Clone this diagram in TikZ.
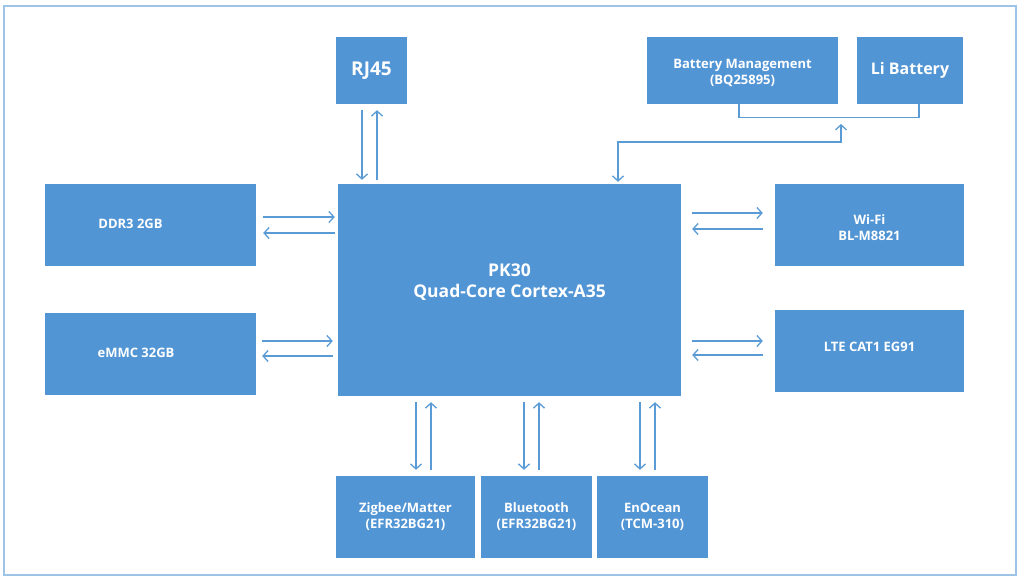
\documentclass[tikz,border=0pt]{standalone}
\usepackage{fontspec}
\setmainfont{Open Sans}
\usetikzlibrary{arrows.meta}

\definecolor{boxblue}{RGB}{82,149,213}
\definecolor{linkblue}{RGB}{91,155,213}
\definecolor{framblue}{RGB}{157,195,230}

\begin{document}
\begin{tikzpicture}[x=1pt,y=-1pt]
  \useasboundingbox (0,0) rectangle (1024,581);
  \tikzset{blk/.style={fill=boxblue,draw=none,text=white,font=\bfseries\fontsize{13}{16}\selectfont,
      align=center,inner sep=0pt},
    link/.style={draw=linkblue,line width=1.3pt,arrows={-Straight Barb[length=5pt,width=11pt]}},
    lbl/.style={text=white,font=\bfseries\fontsize{13}{16}\selectfont,align=center}}

 % frame
  \draw[framblue,line width=1.5pt] (4,6) rectangle (1016,575);

% blocks
  \node[blk,minimum width=71pt,minimum height=67pt,font=\bfseries\fontsize{19}{22}\selectfont] (rj) at (371.5,70.5) {RJ45};
  \node[blk,minimum width=191pt,minimum height=67pt] (bms) at (742.5,70.5) {};
  \node[lbl] (bmstxt) at (742.5,72.5) {Battery Management\\(BQ25895)};
  \node[blk,minimum width=106pt,minimum height=67pt,font=\bfseries\fontsize{16}{19}\selectfont] (lib) at (910,70.5) {Li Battery};
  \node[blk,minimum width=343pt,minimum height=212pt] (pk) at (509.5,290) {};
  \node[lbl,font=\bfseries\fontsize{17.5}{21}\selectfont] (pktxt) at (509.5,282) {PK30\\Quad-Core Cortex-A35};
  \node[blk,minimum width=211pt,minimum height=82pt] (ddr) at (150.5,225) {};
  \node[lbl] (ddrtxt) at (130.5,224) {DDR3 2GB};
  \node[blk,minimum width=211pt,minimum height=82pt] (emmc) at (150.5,354) {};
  \node[lbl] (emmctxt) at (136,353) {eMMC 32GB};
  \node[blk,minimum width=189pt,minimum height=82pt] (wifi) at (869.5,225) {};
  \node[lbl] (wifitxt) at (869.5,227.5) {Wi-Fi\\BL-M8821};
  \node[blk,minimum width=189pt,minimum height=82pt] (lte) at (869.5,351) {};
  \node[lbl] (ltetxt) at (869.5,347) {LTE CAT1 EG91};
  \node[blk,minimum width=139pt,minimum height=82pt] (zig) at (405.5,517) {Zigbee/Matter\\(EFR32BG21)};
  \node[blk,minimum width=111pt,minimum height=82pt] (bt) at (536.5,517) {Bluetooth\\(EFR32BG21)};
  \node[blk,minimum width=111pt,minimum height=82pt] (eno) at (652.5,517) {EnOcean\\(TCM-310)};

%links top
  \draw[link,shorten <=6pt,shorten >=4pt] ([xshift=-9.5pt]rj.south) -- ([xshift=-9.5pt]rj.south |- pk.north);
  \draw[link,shorten <=4pt,shorten >=6pt] ([xshift=5.5pt]rj.south |- pk.north) -- ([xshift=5.5pt]rj.south);

  \coordinate (bat) at (841,117);
  \draw[linkblue,line width=1.3pt] ([xshift=-3.5pt]bms.south) -- ++(0,13) -| ([xshift=9pt]lib.south);
  \draw[link,arrows={Straight Barb[length=5pt,width=11pt]-Straight Barb[length=5pt,width=11pt]},shorten <=2pt,shorten >=7pt]
    ([xshift=108.5pt]pk.north) |- ([yshift=-25pt]bat) -- (bat);

%links left
  \draw[link,shorten <=7pt,shorten >=3pt] ([yshift=8pt]ddr.east) -- ([yshift=8pt]ddr.east -| pk.west);
  \draw[link,shorten <=3pt,shorten >=7pt] ([yshift=-8pt]ddr.east -| pk.west) -- ([yshift=-8pt]ddr.east);
  \draw[link,shorten <=6pt,shorten >=5pt] ([yshift=13pt]emmc.east) -- ([yshift=13pt]emmc.east -| pk.west);
  \draw[link,shorten <=5pt,shorten >=6pt] ([yshift=-2pt]emmc.east -| pk.west) -- ([yshift=-2pt]emmc.east);

%links right
  \draw[link,shorten <=11pt,shorten >=12pt] ([yshift=12pt]wifi.west -| pk.east) -- ([yshift=12pt]wifi.west);
  \draw[link,shorten <=12pt,shorten >=11pt] ([yshift=-4pt]wifi.west) -- ([yshift=-4pt]wifi.west -| pk.east);
  \draw[link,shorten <=11pt,shorten >=12pt] ([yshift=10pt]lte.west -| pk.east) -- ([yshift=10pt]lte.west);
  \draw[link,shorten <=12pt,shorten >=11pt] ([yshift=-4pt]lte.west) -- ([yshift=-4pt]lte.west -| pk.east);

%links bottom
  \draw[link,shorten <=6pt,shorten >=6pt] ([xshift=10.5pt]zig.north |- pk.south) -- ([xshift=10.5pt]zig.north);
  \draw[link,shorten <=6pt,shorten >=6pt] ([xshift=25.5pt]zig.north) -- ([xshift=25.5pt]zig.north |- pk.south);
  \draw[link,shorten <=6pt,shorten >=6pt] ([xshift=-12.5pt]bt.north |- pk.south) -- ([xshift=-12.5pt]bt.north);
  \draw[link,shorten <=6pt,shorten >=6pt] ([xshift=2.5pt]bt.north) -- ([xshift=2.5pt]bt.north |- pk.south);
  \draw[link,shorten <=6pt,shorten >=6pt] ([xshift=-12.5pt]eno.north |- pk.south) -- ([xshift=-12.5pt]eno.north);
  \draw[link,shorten <=6pt,shorten >=6pt] ([xshift=2.5pt]eno.north) -- ([xshift=2.5pt]eno.north |- pk.south);
\end{tikzpicture}
\end{document}
